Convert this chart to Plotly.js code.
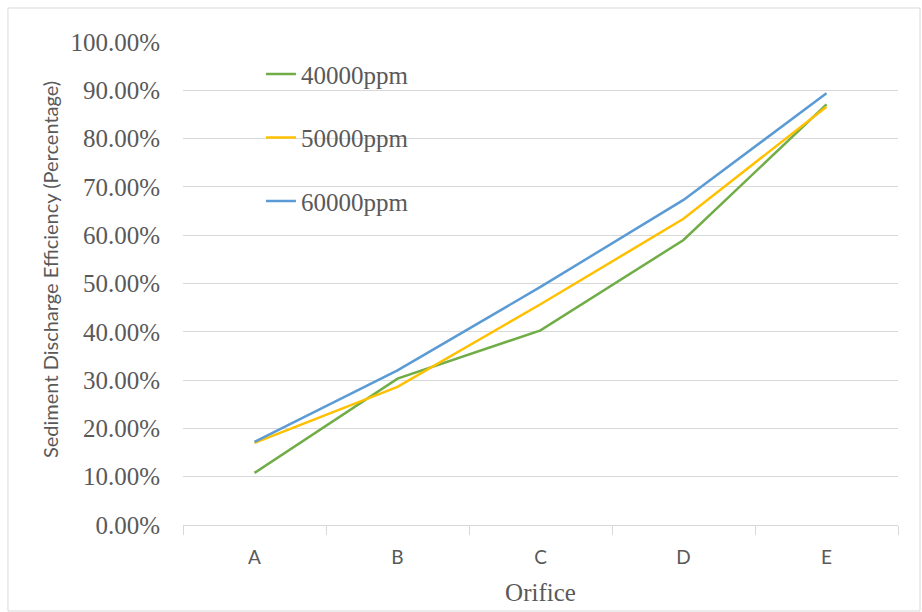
<!DOCTYPE html>
<html>
<head>
<meta charset="utf-8">
<script src="https://cdn.plot.ly/plotly-3.0.1.min.js"></script>
<style>html,body{margin:0;padding:0;background:#fff;}#chart{width:922px;height:612px;}</style>
</head>
<body>
<div id="chart"></div>
<script>
const orifices = ["A", "B", "C", "D", "E"];
const seriesNames = ["40000ppm", "50000ppm", "60000ppm"];
const ppm40000 = [0.108, 0.303, 0.403, 0.590, 0.871];
const ppm50000 = [0.170, 0.286, 0.457, 0.634, 0.866];
const ppm60000 = [0.172, 0.320, 0.493, 0.673, 0.894];
const yTicks = [0, 0.1, 0.2, 0.3, 0.4, 0.5, 0.6, 0.7, 0.8, 0.9, 1.0];
const yTitle = "Sediment Discharge Efficiency (Percentage)";
const xTitle = "Orifice";

const colors = ["#70ad47", "#ffc000", "#5b9bd5"];
const values = [ppm40000, ppm50000, ppm60000];

const traces = values.map((v, i) => ({
  type: "scatter",
  mode: "lines",
  x: orifices,
  y: v,
  name: seriesNames[i],
  legendgroup: "g" + i,
  line: {color: colors[i], width: 2.5},
  hoverinfo: "x+y+name"
}));

const serif = "'Times New Roman', 'Liberation Serif', serif";
const sans = "Lato";

const layout = {
  width: 922,
  height: 612,
  margin: {l: 183, r: 24, t: 42, b: 87},
  paper_bgcolor: "#ffffff",
  plot_bgcolor: "#ffffff",
  showlegend: true,
  legend: {
    x: 0.109, y: 0.981, xanchor: "left", yanchor: "top",
    bgcolor: "rgba(0,0,0,0)",
    font: {family: serif, size: 25, color: "#595959"},
    traceorder: "grouped",
    tracegroupgap: 28,
    itemwidth: 30
  },
  xaxis: {
    type: "category",
    tickson: "boundaries",
    ticks: "outside",
    ticklen: 9,
    tickcolor: "#d9d9d9",
    showgrid: false,
    showline: true,
    linecolor: "#d9d9d9",
    linewidth: 1,
    tickfont: {family: sans, size: 19, color: "#595959"},
    ticklabelstandoff: 15,
    title: {text: xTitle, font: {family: serif, size: 25, color: "#595959"}, standoff: 16},
    range: [-0.5, 4.5],
    fixedrange: true
  },
  yaxis: {
    range: [0, 1],
    tickvals: yTicks,
    tickformat: ".2%",
    showgrid: true,
    gridcolor: "#d9d9d9",
    gridwidth: 1,
    zeroline: false,
    showline: false,
    ticks: "",
    tickfont: {family: serif, size: 25, color: "#595959"},
    ticklabelstandoff: 22,
    fixedrange: true
  },
  annotations: [{
    text: yTitle, xref: "paper", yref: "paper",
    x: -0.186, y: 0.528, xanchor: "center", yanchor: "middle",
    textangle: -90, showarrow: false,
    font: {family: sans, size: 20, color: "#595959"}
  }],
  shapes: [{
    type: "rect", xref: "paper", yref: "paper",
    x0: -0.2448, x1: 1.0308, y0: -0.178, y1: 1.0704,
    line: {color: "#d9d9d9", width: 1}, fillcolor: "rgba(0,0,0,0)", layer: "below"
  }]
};

Plotly.newPlot("chart", traces, layout, {displayModeBar: false, staticPlot: true});
</script>
</body>
</html>
